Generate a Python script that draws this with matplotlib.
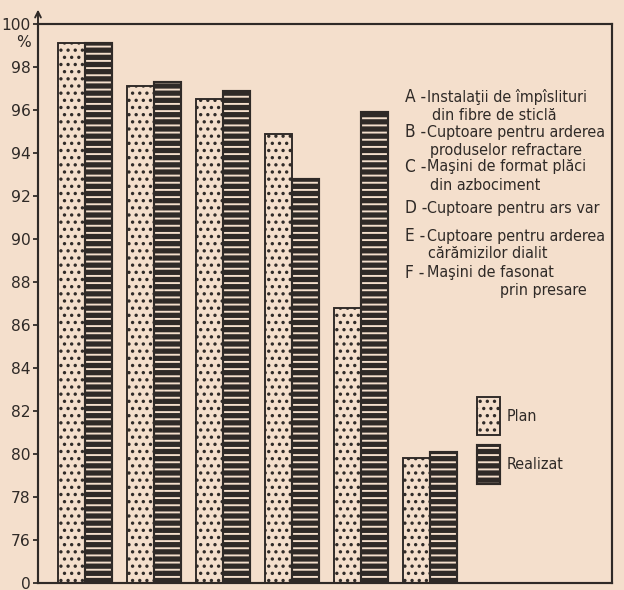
import numpy as np
import matplotlib
matplotlib.use("Agg")
import matplotlib.pyplot as plt
from matplotlib import font_manager as fm
from matplotlib.legend_handler import HandlerTuple

# ---------------- data ----------------
categories = ["A", "B", "C", "D", "E", "F"]
plan = [99.1, 97.1, 96.5, 94.9, 86.8, 79.8]
realizat = [99.1, 97.3, 96.9, 92.8, 95.9, 80.1]
series_labels = ["Plan", "Realizat"]
y_ticks = [74, 76, 78, 80, 82, 84, 86, 88, 90, 92, 94, 96, 98, 100]
y_tick_labels = ["0", "76", "78", "80", "82", "84", "86", "88", "90",
                 "92", "94", "96", "98", "100"]
desc_letters = ["A -", "B -", "C -", "D -", "E -", "F -"]
desc_first = ["Instalaţii de împîslituri", "Cuptoare pentru arderea",
              "Maşini de format plăci", "Cuptoare pentru ars var",
              "Cuptoare pentru arderea", "Maşini de fasonat"]
desc_second = ["din fibre de sticlă", "produselor refractare",
               "din azbociment", "", "cărămizilor dialit", "prin presare"]

# ---------------- style ----------------
DPI = 86
W, H = 624, 590
PAPER = "#f4dfcc"
INK = "#2f2a27"


def pick_narrow_font():
    best = None
    for f in fm.fontManager.ttflist:
        nm = f.name.lower()
        fn = f.fname.lower()
        if f.style != "normal" or "mono" in nm:
            continue
        if "serif" in nm and "sans" not in nm:
            continue
        narrow = ("narrow" in nm or "condensed" in nm or "narrow" in fn
                  or "condensed" in fn
                  or f.stretch in ("condensed", "semi-condensed",
                                   "extra-condensed"))
        if not narrow:
            continue
        w = f.weight if isinstance(f.weight, int) else 400
        score = abs(w - 450)
        if "extra" in fn or "ultra" in fn or "semi" in fn:
            score += 50
        if best is None or score < best[0]:
            best = (score, f.fname)
    return best[1] if best else None


narrow_path = pick_narrow_font()


def fp(size):
    if narrow_path:
        return fm.FontProperties(fname=narrow_path, size=size)
    return fm.FontProperties(family="DejaVu Sans", size=size)


plt.rcParams["hatch.linewidth"] = 1.6

fig = plt.figure(figsize=(W / DPI, H / DPI), dpi=DPI, facecolor=PAPER)
ax = fig.add_axes([38 / W, 1 - 583 / H, (612 - 38) / W, (583 - 24) / H])
ax.set_facecolor(PAPER)

# fit description font so the longest line spans the reference width
renderer = fig.canvas.get_renderer()
probe = fig.text(0, 0, desc_first[1], fontproperties=fp(10))
pw = probe.get_window_extent(renderer).width
probe.remove()
desc_size = min(16.5, 10 * 181 / pw)

x = np.arange(len(categories))
bw = 0.39
b_plan = ax.bar(x - bw / 2, plan, width=bw, facecolor=PAPER, edgecolor=INK,
                hatch="..", linewidth=1.6, zorder=2)
b_real_fill = ax.bar(x + bw / 2, realizat, width=bw, facecolor=INK,
                     edgecolor=PAPER, hatch="--", linewidth=0, zorder=2)
b_real_edge = ax.bar(x + bw / 2, realizat, width=bw, fill=False,
                     edgecolor=INK, linewidth=1.8, zorder=3)

ax.set_xlim(-0.68, 7.64)
ax.set_ylim(74, 100)
ax.set_yticks(y_ticks, y_tick_labels)
ax.set_xticks(x, categories)
ax.tick_params(axis="y", direction="out", length=4, width=1.5, pad=2,
               labelsize=13, colors=INK)
ax.tick_params(axis="x", length=0, pad=5, labelsize=14, colors=INK)
for s in ax.spines.values():
    s.set_color(INK)
    s.set_linewidth(1.8)

# arrow on the y axis
ax.annotate("", xy=(0, 1.03), xytext=(0, 0.99), xycoords="axes fraction",
            arrowprops=dict(arrowstyle="->", color=INK, lw=1.6,
                            mutation_scale=12),
            annotation_clip=False)
ax.annotate("%", xy=(0, 99.15), xycoords=("axes fraction", "data"),
            xytext=(-6, 0), textcoords="offset points", ha="right",
            va="center", fontsize=13, color=INK)

# category descriptions
first_y = [97, 132, 167, 208, 236, 273]
second_y = [115, 150, 185, None, 253, 291]
second_x = [432, 430, 430, None, 428, 500]
for i in range(len(desc_letters)):
    fig.text(405 / W, 1 - first_y[i] / H, desc_letters[i], ha="left",
             va="center", fontproperties=fp(desc_size * 1.08), color=INK)
    fig.text(427 / W, 1 - first_y[i] / H, desc_first[i], ha="left",
             va="center", fontproperties=fp(desc_size), color=INK)
    if desc_second[i]:
        fig.text(second_x[i] / W, 1 - second_y[i] / H, desc_second[i],
                 ha="left", va="center", fontproperties=fp(desc_size),
                 color=INK)

fs = desc_size
fpx = fs * DPI / 72
ax.legend([b_plan, (b_real_fill, b_real_edge)], series_labels,
          handler_map={tuple: HandlerTuple(ndivide=1, pad=0)},
          loc="upper left", bbox_to_anchor=(477 / W, 1 - 397 / H),
          bbox_transform=fig.transFigure, frameon=False,
          handlelength=23 / fpx, handleheight=53 / fpx,
          labelspacing=10 / fpx, handletextpad=7 / fpx,
          borderpad=0, borderaxespad=0,
          prop=fp(fs), labelcolor=INK)

fig.savefig("out.png", dpi=DPI, facecolor=PAPER)
